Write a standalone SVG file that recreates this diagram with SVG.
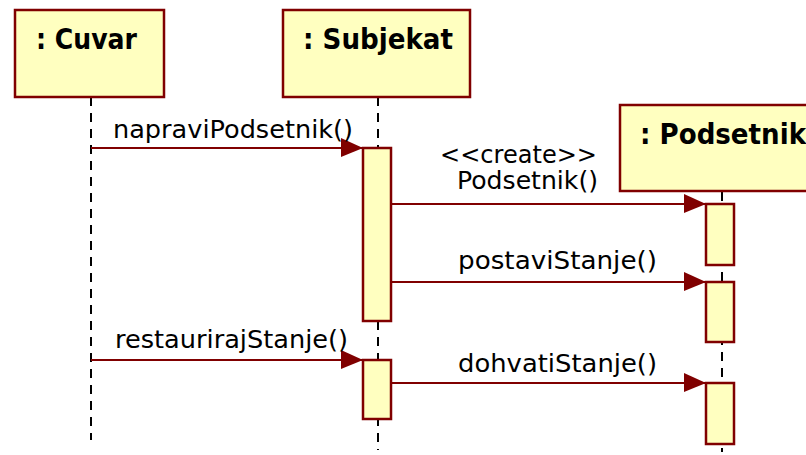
<svg xmlns="http://www.w3.org/2000/svg" width="806" height="455" viewBox="0 0 806 455">
<style>
.obj{fill:#ffffc0;stroke:#800000;stroke-width:2.5}
.act{fill:#ffffc0;stroke:#800000;stroke-width:2.5}
.life{stroke:#000;stroke-width:2;stroke-dasharray:9,7;fill:none}
.msg{stroke:#800000;stroke-width:2;fill:none}
.title{font-family:"DejaVu Sans",Verdana,sans-serif;font-weight:bold;font-size:29px;fill:#000}
.lbl{font-family:"DejaVu Sans",Verdana,sans-serif;font-size:25px;fill:#000}
</style>
<defs>
<marker id="arr" markerWidth="22" markerHeight="20" refX="22" refY="10" orient="auto" markerUnits="userSpaceOnUse">
<path d="M0,0 L22,10 L0,19 Z" fill="#800000"/>
</marker>
</defs>
<g id="lifelines">
<line class="life" x1="91" y1="97" x2="91" y2="440"/>
<line class="life" x1="378" y1="97" x2="378" y2="450"/>
<line class="life" x1="722" y1="192" x2="722" y2="452"/>
</g>
<g id="cuvar">
<rect class="obj" x="15" y="10" width="149" height="87"/>
<text class="title" x="36" y="49" textLength="101" lengthAdjust="spacingAndGlyphs">: Cuvar</text>
</g>
<g id="subjekat">
<rect class="obj" x="283" y="10" width="187" height="87"/>
<text class="title" x="303" y="49" textLength="150" lengthAdjust="spacingAndGlyphs">: Subjekat</text>
</g>
<g id="podsetnik">
<rect class="obj" x="620" y="105" width="200" height="86"/>
<text class="title" x="640" y="144" textLength="166" lengthAdjust="spacingAndGlyphs">: Podsetnik</text>
</g>
<g id="activations">
<rect class="act" x="363" y="148" width="28" height="173"/>
<rect class="act" x="363" y="360" width="28" height="59"/>
<rect class="act" x="706" y="204" width="28" height="61"/>
<rect class="act" x="706" y="282" width="28" height="60"/>
<rect class="act" x="706" y="383" width="28" height="61"/>
</g>
<g id="connectors">
<line class="msg" x1="91" y1="148" x2="363" y2="148" marker-end="url(#arr)"/>
<line class="msg" x1="391" y1="204" x2="706" y2="204" marker-end="url(#arr)"/>
<line class="msg" x1="391" y1="282" x2="706" y2="282" marker-end="url(#arr)"/>
<line class="msg" x1="91" y1="360" x2="363" y2="360" marker-end="url(#arr)"/>
<line class="msg" x1="391" y1="383" x2="706" y2="383" marker-end="url(#arr)"/>
</g>
<g id="labels">
<text class="lbl" x="113" y="138" textLength="240" lengthAdjust="spacingAndGlyphs">napraviPodsetnik()</text>
<text class="lbl" x="440" y="163" textLength="157" lengthAdjust="spacingAndGlyphs">&lt;&lt;create&gt;&gt;</text>
<text class="lbl" x="457" y="189" textLength="141" lengthAdjust="spacingAndGlyphs">Podsetnik()</text>
<text class="lbl" x="458" y="269" textLength="199" lengthAdjust="spacingAndGlyphs">postaviStanje()</text>
<text class="lbl" x="115" y="348" textLength="233" lengthAdjust="spacingAndGlyphs">restaurirajStanje()</text>
<text class="lbl" x="458" y="372" textLength="199" lengthAdjust="spacingAndGlyphs">dohvatiStanje()</text>
</g>
</svg>
